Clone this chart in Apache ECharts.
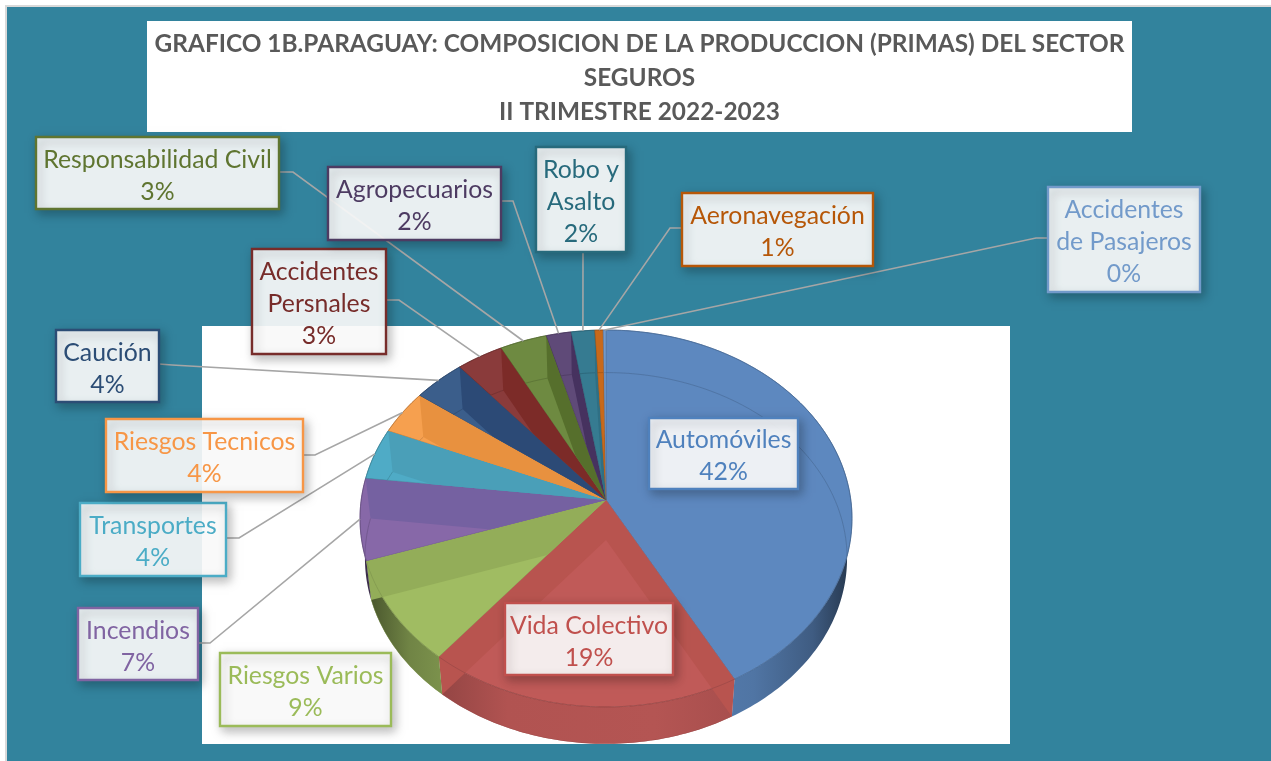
<!DOCTYPE html>
<html>
<head>
<meta charset="utf-8">
<title>Grafico 1B</title>
<style>
  html, body { margin: 0; padding: 0; background: #fff; }
  #chart { width: 1271px; height: 761px; }
</style>
<script src="https://cdn.jsdelivr.net/npm/echarts@6/dist/echarts.min.js"></script>
</head>
<body>
<div id="chart"></div>
<script>
// datos (clockwise from 12 o'clock)
const categories = ["Automóviles", "Vida Colectivo", "Riesgos Varios", "Incendios", "Transportes", "Riesgos Tecnicos", "Caución", "Accidentes\nPersnales", "Responsabilidad Civil", "Agropecuarios", "Robo y\nAsalto", "Aeronavegación", "Accidentes\nde Pasajeros"];
const values = [42, 18.8, 9, 7, 4.4, 3.8, 3.8, 3.4, 3.4, 1.8, 1.7, 0.6, 0.2];
const titleText = "GRAFICO 1B.PARAGUAY: COMPOSICION DE LA PRODUCCION (PRIMAS) DEL SECTOR\nSEGUROS\nII TRIMESTRE 2022-2023";

// colores
const textColors = ["#4f81bd", "#c0504d", "#9bbb59", "#8064a2", "#4bacc6", "#f79646", "#2c4d75", "#772c2a", "#5f7530", "#4d3b62", "#276a7c", "#b65708", "#729aca"];
const faceColors = ["#5d88bf", "#c05a58", "#a0bc62", "#8768a8", "#4fabc6", "#f6a04f", "#3b5e8b", "#8a3b3b", "#6e8a41", "#5f4a78", "#367b91", "#c8691a", "#729aca"];
const bandColors = ["#5d88bf", "#b8544f", "#93ad59", "#7561a1", "#4a9fb8", "#e8913f", "#2c4a76", "#7c2b28", "#566f2c", "#46325f", "#2f6f84", "#b65d14", "#6389b8"];

// cajas de etiqueta: x, y, w, h
const labelBoxes = [
  [649, 418, 149, 71], [505, 603, 168, 72], [220, 653, 171, 73], [78, 608, 120, 72],
  [80, 503, 146, 73], [106, 419, 197, 73], [56, 330, 103, 72], [252, 249, 134, 105],
  [36, 137, 243, 72], [328, 167, 173, 73], [536, 147, 90, 105], [682, 193, 191, 73], [1048, 187, 152, 105]
];
// codo de la linea guia: [inicio en la caja, codo]
const leaderElbows = [
  null, null, null, [[198, 643], [210, 643]],
  [[226, 538], [239, 538]], [[303, 455], [315, 455]], [[159, 364], [172, 365]], [[386, 300], [399, 300]],
  [[279, 172], [293, 172]], [[501, 201], [513, 201]], [[583, 252], [583, 253]], [[682, 228], [670, 228]], [[1048, 238], [1036, 238]]
];

const total = values.reduce((a, b) => a + b, 0);

// perspectiva del disco
const CX = 606, APEX_Y = 500, K = -0.0981, A = 137.6, C = 244.8;
function rimPoint(t) {
  const u = Math.sin(t), v = -Math.cos(t), d = 1 + K * v;
  return [CX + C * u / d, (APEX_Y + A * v) / d];
}
function low(p) {
  return [CX + (p[0] - CX) * 0.98, APEX_Y + 40 + (p[1] - APEX_Y) * 0.985];
}
function arc(t0, t1) {
  const n = Math.max(2, Math.ceil((t1 - t0) / (Math.PI / 180)));
  const pts = [];
  for (let i = 0; i <= n; i++) pts.push(rimPoint(t0 + (t1 - t0) * i / n));
  return pts;
}
function shade(hex, f) {
  const n = parseInt(hex.slice(1), 16);
  const c = [n >> 16, (n >> 8) & 255, n & 255].map(x => Math.round(x * (1 - f)));
  return "rgb(" + c.join(",") + ")";
}

const apexTop = [CX, APEX_Y];
const apexLow = low(apexTop);

function renderSlice(params, api) {
  const i = params.dataIndex;
  let before = 0;
  for (let j = 0; j < i; j++) before += values[j];
  const t0 = before / total * Math.PI * 2;
  const t1 = (before + values[i]) / total * Math.PI * 2;
  const tm = (t0 + t1) / 2;
  const rim = arc(t0, t1);
  const rimLow = rim.map(low);
  const face = [apexTop].concat(rim);
  const wall = rim.concat(rimLow.slice().reverse());
  const clip = -Math.cos(tm) > 0.3 ? [apexTop].concat(rim.slice(0, 1), rimLow, rim.slice(-1)) : face;
  const clipPath = () => ({ type: "polygon", shape: { points: clip } });
  const children = [];

  children.push({
    type: "polygon", z2: 1, shape: { points: wall },
    style: {
      fill: {
        type: "linear", global: true, x: 360, y: 0, x2: 852, y2: 0,
        colorStops: [
          { offset: 0, color: shade(faceColors[i], 0.6) },
          { offset: 0.1, color: shade(faceColors[i], 0.3) },
          { offset: 0.3, color: shade(faceColors[i], 0.08) },
          { offset: 0.6, color: shade(faceColors[i], 0.06) },
          { offset: 0.8, color: shade(faceColors[i], 0.14) },
          { offset: 0.92, color: shade(faceColors[i], 0.32) },
          { offset: 1, color: shade(faceColors[i], 0.6) }
        ]
      }
    }
  });
  children.push({
    type: "polygon", z2: 2, shape: { points: face },
    style: { fill: faceColors[i], stroke: shade(faceColors[i], 0.2), lineWidth: 0.6 }
  });
  // paredes radiales vistas a traves de la cara
  [t0, t1].forEach(t => {
    const p = rimPoint(t);
    children.push({
      type: "polygon", z2: 3, clipPath: clipPath(), shape: { points: [apexTop, p, low(p), apexLow] },
      style: { fill: bandColors[i] }
    });
  });
  // borde inferior visto a traves de la cara
  children.push({
    type: "polyline", z2: 4, clipPath: clipPath(), shape: { points: rimLow },
    style: { stroke: shade(faceColors[i], 0.2), fill: null, lineWidth: 0.7 }
  });
  children.push({
    type: "polyline", z2: 5, shape: { points: rim },
    style: { stroke: shade(faceColors[i], 0.2), fill: null, lineWidth: 0.7 }
  });

  // linea guia
  const elbow = leaderElbows[i];
  if (elbow) {
    children.push({
      type: "polyline", z2: 10, shape: { points: [elbow[0], elbow[1], rimPoint(tm)] },
      style: { stroke: "#a6a6a6", fill: null, lineWidth: 1.6 }
    });
  }

  // etiqueta
  const b = labelBoxes[i];
  children.push({
    type: "rect", z2: 20, shape: { x: b[0], y: b[1], width: b[2], height: b[3] },
    style: {
      fill: "rgba(255,255,255,0.9)",
      stroke: textColors[i],
      lineWidth: 2.4,
      shadowBlur: 10, shadowOffsetX: 3, shadowOffsetY: 4, shadowColor: "rgba(0,0,0,0.28)"
    }
  });
  children.push({
    type: "text", z2: 21,
    style: {
      text: categories[i] + "\n" + Math.round(values[i] / total * 100) + "%",
      x: b[0] + b[2] / 2, y: b[1] + b[3] / 2 + 3,
      align: "center", verticalAlign: "middle",
      font: "24.8px Lato", lineHeight: 32, fill: textColors[i]
    }
  });
  return { type: "group", children: children };
}

const myChart = echarts.init(document.getElementById("chart"));
myChart.setOption({
  animation: false,
  backgroundColor: "#ffffff",
  textStyle: { fontFamily: "Lato" },
  title: {
    text: titleText,
    left: 634.5, top: 22, textAlign: "center",
    textStyle: { color: "#595959", fontSize: 24.4, fontWeight: "bold", fontFamily: "Lato", lineHeight: 34 }
  },
  graphic: {
    elements: [
      { type: "rect", z: -3, silent: true, shape: { x: 6, y: 6, width: 1270, height: 760 }, style: { fill: "#32839d", stroke: "#d9d9d9", lineWidth: 2 } },
      { type: "rect", z: -2, silent: true, shape: { x: 147, y: 21, width: 985, height: 111 }, style: { fill: "#ffffff" } },
      { type: "rect", z: -2, silent: true, shape: { x: 202, y: 326, width: 808, height: 418 }, style: { fill: "#ffffff" } }
    ]
  },
  series: [{
    type: "custom",
    coordinateSystem: "none",
    silent: true,
    renderItem: renderSlice,
    data: categories.map((name, i) => ({ name: name, value: values[i] }))
  }]
});
window.addEventListener("resize", () => myChart.resize());
</script>
</body>
</html>
